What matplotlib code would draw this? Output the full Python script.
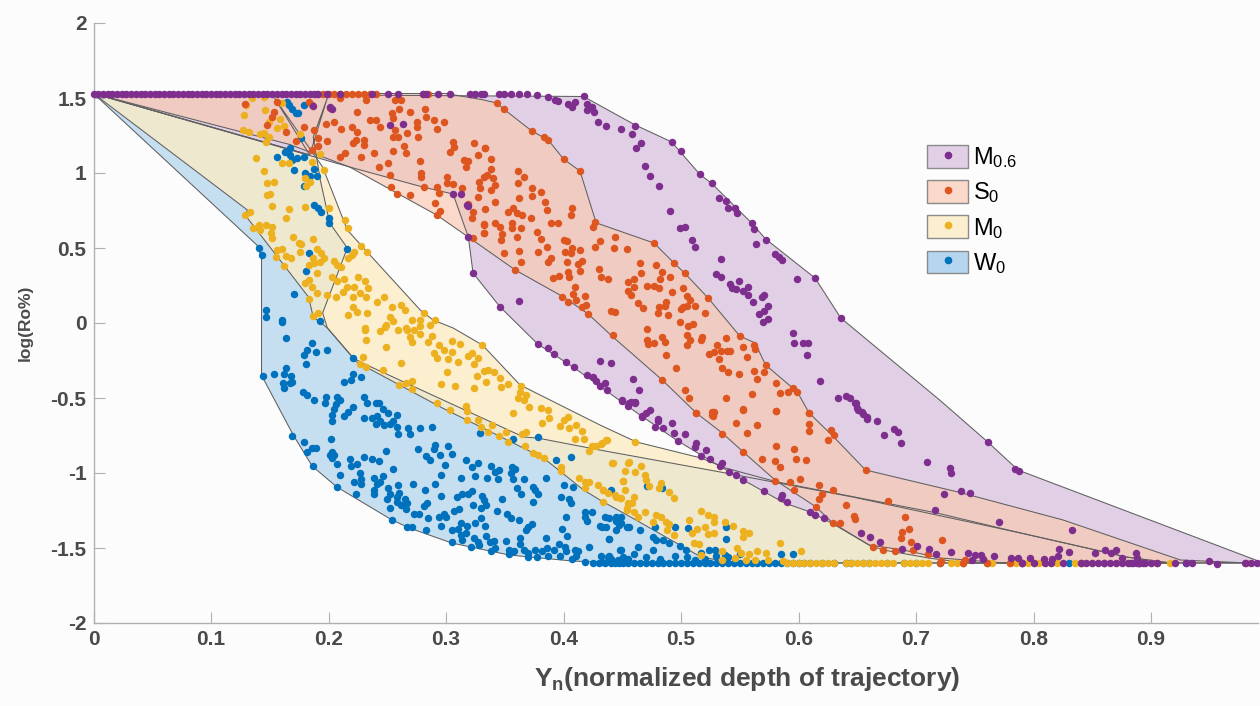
import matplotlib
matplotlib.use("Agg")
import matplotlib.pyplot as plt
from matplotlib.patches import Patch
from matplotlib.lines import Line2D
from matplotlib.legend_handler import HandlerTuple

plt.rcParams['font.family'] = ['Liberation Sans', 'DejaVu Sans']
plt.rcParams['mathtext.fontset'] = 'custom'
plt.rcParams['mathtext.rm'] = 'Liberation Sans'
plt.rcParams['mathtext.bf'] = 'Liberation Sans:bold'
plt.rcParams['mathtext.default'] = 'regular'

TOP = 1.53
BOT = -1.60

series_names = ['M$_{0.6}$', 'S$_0$', 'M$_0$', 'W$_0$']
x_ticks = [0, 0.1, 0.2, 0.3, 0.4, 0.5, 0.6, 0.7, 0.8, 0.9]
x_tick_labels = ['0', '0.1', '0.2', '0.3', '0.4', '0.5', '0.6', '0.7', '0.8', '0.9']
y_ticks = [-2, -1.5, -1, -0.5, 0, 0.5, 1, 1.5, 2]
y_tick_labels = ['-2', '-1.5', '-1', '-0.5', '0', '0.5', '1', '1.5', '2']

# ---- envelope boundaries ----
M06_upper = [(0,1.53),(.417,1.51),(.461,1.32),(.492,1.207),(.516,.991),(.526,.931),(.560,.667),(.572,.56),(.614,.30),(.636,.033),(.72,-.513),(.761,-.793),(.784,-.96),(.789,-.987),(.989,-1.58),(.991,-1.60)]
M06_lower = [(0,1.53),(.218,1.04),(.28,.907),(.306,.86),(.319,.573),(.323,.333),(.346,.107),(.378,-.14),(.408,-.293),(.465,-.613),(.496,-.78),(.517,-.88),(.553,-1.047),(.588,-1.2),(.610,-1.26),(.628,-1.333),(.660,-1.48),(.689,-1.513),(.721,-1.567),(.775,-1.6)]
S0_upper = [(0,1.53),(.30,1.53),(.33,1.49),(.343,1.467),(.349,1.427),(.373,1.28),(.387,1.22),(.400,1.093),(.414,1.013),(.427,.687),(.428,.667),(.477,.533),(.494,.4),(.503,.333),(.523,.167),(.550,-.087),(.563,-.133),(.572,-.28),(.599,-.46),(.609,-.6),(.630,-.76),(.657,-.98),(.739,-1.133),(.825,-1.313),(.925,-1.58),(.983,-1.6)]
S0_lower = [(0,1.53),(.167,1.19),(.218,1.04),(.292,.72),(.319,.573),(.359,.353),(.4,.173),(.421,.06),(.442,-.093),(.484,-.38),(.513,-.6),(.535,-.733),(.553,-.86),(.58,-1.047),(.615,-1.227),(.629,-1.333),(.660,-1.48),(.672,-1.513),(.711,-1.567),(.743,-1.6)]
M0_upper = [(0,1.53),(.184,1.12),(.154,1.5),(.195,1.04),(.216,.62),(.233,.473),(.278,.087),(.289,.02),(.306,-.033),(.331,-.147),(.363,-.413),(.431,-.68),(.462,-.793),(.517,-.9),(.538,-.967),(.582,-1.06),(.718,-1.267),(.789,-1.4),(.879,-1.56),(.914,-1.6)]
M0_lower = [(0,1.53),(.131,.753),(.129,.72),(.154,.467),(.183,.173),(.187,.04),(.199,-.033),(.224,-.26),(.297,-.567),(.383,-.9),(.417,-1.113),(.431,-1.18),(.457,-1.293),(.517,-1.56),(.546,-1.6)]
W0_upper = [(0,1.53),(.184,1.12),(.199,1.5),(.187,1.24),(.193,.953),(.201,.667),(.216,.5),(.195,.067),(.199,-.033),(.221,-.233),(.229,-.267),(.366,-.76),(.378,-.767),(.431,-.847),(.538,-1.0),(.646,-1.16),(.789,-1.4),(.879,-1.56),(.918,-1.6)]
W0_lower = [(0,1.53),(.139,.52),(.143,.44),(.143,-.353),(.146,-.393),(.17,-.747),(.186,-.953),(.207,-1.093),(.254,-1.313),(.269,-1.367),(.305,-1.467),(.354,-1.547),(.408,-1.587),(.448,-1.6)]

# ---- W0 samples ----
W0_points = [(.160,.01),(.164,-.10),(.186,-.13),(.182,-.18),(.189,-.19),(.179,-.21),(.199,-.18),(.181,-.27),(.164,-.30),(.144,-.35),(.154,-.34),(.162,-.34),(.168,-.35),(.169,-.39),(.161,-.40),(.162,-.43),(.167,-.40),(.178,-.46),(.182,-.48),(.188,-.51),(.198,-.49),(.197,-.53),(.207,-.49),(.210,-.51),(.206,-.54),(.205,-.575),(.213,-.395),(.219,-.38),(.221,-.34),(.228,-.36),(.221,-.235),(.230,-.49),(.233,-.535),(.240,-.53),(.243,-.53),(.246,-.57),(.251,-.60),(.258,-.61),(.221,-.56),(.217,-.59),(.213,-.62),(.203,-.615),(.203,-.65),(.230,-.635),(.237,-.635),(.241,-.62),(.244,-.65),(.240,-.67),(.247,-.68),(.252,-.675),(.255,-.65),(.258,-.69),(.259,-.74),(.268,-.70),(.269,-.74),(.278,-.70),(.288,-.69),(.169,-.75),(.179,-.79),(.186,-.83),(.189,-.835),(.182,-.86),(.202,-.775),(.203,-.86),(.201,-.88),(.205,-.88),(.203,-.90),(.207,-.94),(.218,-.905),(.219,-.955),(.224,-.94),(.230,-.89),(.237,-.905),(.243,-.92),(.249,-.85),(.255,-.97),(.187,-.955),(.210,-1.01),(.227,-1.0),(.228,-1.04),(.239,-1.03),(.246,-1.02),(.222,-1.06),(.228,-1.07),(.241,-1.07),(.244,-1.06),(.207,-1.095),(.223,-1.14),(.239,-1.11),(.239,-1.14),(.251,-1.10),(.259,-1.08),(.272,-1.07),(.252,-1.14),(.260,-1.13),(.250,-1.17),(.258,-1.16),(.258,-1.19),(.265,-1.17),(.267,-1.20),(.262,-1.21),(.252,-1.23),(.266,-1.24),(.254,-1.31),(.273,-1.27),(.277,-1.27),(.285,-1.30),(.267,-1.36),(.271,-1.36),(.283,-1.38),(.281,-1.22),(.284,-1.20),(.282,-1.11),(.291,-1.07),(.296,-1.015),(.296,-1.15),(.276,-.84),(.290,-.84),(.291,-.81),(.283,-.885),(.286,-.91),(.295,-.88),(.302,-.82),(.305,-.87),(.299,-.945),(.317,-.915),(.322,-.96),(.327,-.93),(.313,-1.03),(.325,-1.02),(.335,-1.03),(.338,-.955),(.342,-.995),(.345,-.98),(.344,-1.04),(.356,-.96),(.359,-.97),(.355,-1.0),(.357,-1.04),(.366,-1.04),(.360,-1.10),(.364,-1.14),(.374,-1.09),(.376,-1.11),(.378,-1.14),(.374,-1.19),(.385,-1.03),(.400,-1.08),(.408,-1.09),(.398,-1.16),(.405,-1.17),(.406,-1.20),(.394,-.91),(.406,-.895),(.378,-.76),(.357,-.77),(.329,-.73),(.309,-1.16),(.314,-1.14),(.319,-1.14),(.322,-1.12),(.331,-1.15),(.332,-1.18),(.334,-1.21),(.323,-1.21),(.330,-1.23),(.348,-1.17),(.343,-1.25),(.352,-1.27),(.355,-1.30),(.362,-1.31),(.307,-1.25),(.311,-1.24),(.294,-1.29),(.298,-1.27),(.300,-1.29),(.313,-1.33),(.318,-1.35),(.325,-1.33),(.330,-1.30),(.333,-1.35),(.296,-1.35),(.305,-1.38),(.310,-1.37),(.317,-1.40),(.313,-1.41),(.314,-1.445),(.305,-1.46),(.324,-1.43),(.327,-1.46),(.321,-1.49),(.328,-1.48),(.334,-1.42),(.337,-1.46),(.341,-1.45),(.342,-1.50),(.338,-1.52),(.351,-1.45),(.363,-1.43),(.363,-1.47),(.366,-1.51),(.370,-1.36),(.373,-1.34),(.368,-1.38),(.385,-1.43),(.399,-1.37),(.403,-1.42),(.402,-1.29),(.418,-1.26),(.424,-1.26),(.420,-1.32),(.418,-1.29),(.431,-1.35),(.436,-1.36),(.435,-1.29),(.439,-1.30),(.445,-1.32),(.449,-1.29),(.454,-1.36),(.445,-1.38),(.439,-1.44),(.448,-1.51),(.354,-1.51),(.358,-1.52),(.354,-1.54),(.370,-1.53),(.376,-1.51),(.370,-1.56),(.377,-1.56),(.382,-1.52),(.386,-1.50),(.387,-1.55),(.392,-1.51),(.397,-1.55),(.396,-1.47),(.401,-1.49),(.402,-1.52),(.410,-1.51),(.412,-1.52),(.411,-1.55),(.407,-1.57),(.418,-1.59),(.425,-1.60),(.422,-1.49),(.432,-1.55),(.433,-1.59),(.439,-1.55),(.441,-1.59),(.446,-1.58),(.451,-1.56),
 (.167,1.165),(.163,1.143),(.156,1.105),(.167,1.12),(.169,1.09),(.173,1.098),(.179,1.105),(.171,1.02),(.180,1.0),(.188,1.025),(.184,.98),(.190,.98),(.179,.916),(.188,.787),(.191,.77),(.194,.743),(.200,.698),(.200,.669),(.216,.494),(.183,.47),(.181,.349),(.171,.194),(.141,.50),(.143,.454),(.147,.087),(.147,.042),(.160,.02),(.193,.016),(.179,1.454),(.166,1.454),(.169,1.43),(.174,1.398),(.177,1.231),(.172,1.398),(.165,1.476),
 (.445,-1.295),(.449,-1.33),(.433,-1.357),(.439,-1.44),(.447,-1.346),(.456,-1.357),(.465,-1.38),(.478,-1.357),(.495,-1.357),(.506,-1.364),(.538,-1.357),(.538,-1.44),(.440,-1.113),(.471,-1.086),(.484,-1.10),(.476,-1.424),(.479,-1.446),(.485,-1.446),(.490,-1.469),(.499,-1.486),(.504,-1.513),(.517,-1.535),(.524,-1.513),(.529,-1.513),(.537,-1.546),(.463,-1.49),(.476,-1.513),(.449,-1.513),(.438,-1.557),(.449,-1.58),(.585,-1.542),(.595,-1.542),(.512,-1.58),
 (.44,-1.57),(.455,-1.57),(.46,-1.54),(.47,-1.56),(.482,-1.57),(.495,-1.55),(.505,-1.56),(.52,-1.57),(.53,-1.55),(.54,-1.56),(.55,-1.54)]
W0_floor_x = [.43,.435,.44,.444,.447,.451,.455,.46,.465,.47,.475,.48,.485,.49,.495,.50,.505,.51,.515,.52,.525,.53,.535,.54,.545,.55,.555,.56,.565,.57,.575,.58,.585,.59,.595,.6,.605,.61,.62,.63,.64,.645,.655,.66,.675,.69,.7,.72,.74,.76,.79,.83,.86,.89,.93]

# ---- M0 samples ----
M0_points = [(.231,-.047),(.232,-.113),(.244,-.05),(.249,-.013),(.255,.013),(.259,-.047),(.267,-.047),(.273,-.047),(.278,-.073),(.269,-.091),(.271,-.124),(.286,-.013),(.278,-.02),(.288,-.087),(.285,-.129),(.249,-.162),(.294,-.147),(.305,-.12),(.312,-.142),(.305,-.191),(.298,-.18),(.290,-.202),(.292,-.231),(.302,-.242),(.310,-.258),(.322,-.202),(.319,-.218),(.327,-.236),(.324,-.276),(.331,-.149),(.229,-.224),(.262,-.267),(.227,-.273),(.232,-.293),(.246,-.311),(.301,-.327),(.332,-.318),(.336,-.313),(.341,-.329),(.326,-.351),(.346,-.364),(.334,-.391),(.296,-.409),(.308,-.422),(.324,-.431),(.347,-.424),(.353,-.407),(.364,-.42),(.266,-.398),(.271,-.384),(.260,-.411),(.271,-.438),(.363,-.458),(.361,-.502),(.368,-.48),(.366,-.513),(.371,-.558),(.357,-.602),(.381,-.569),(.387,-.58),(.388,-.636),(.382,-.667),(.400,-.647),(.404,-.629),(.397,-.684),(.411,-.678),(.405,-.702),(.416,-.72),(.410,-.776),(.417,-.773),(.424,-.82),(.428,-.82),(.432,-.807),(.437,-.78),(.422,-.853),(.292,-.536),(.317,-.553),(.318,-.584),(.303,-.58),(.327,-.647),(.318,-.647),(.339,-.68),(.330,-.696),(.336,-.724),(.351,-.729),(.345,-.751),(.368,-.724),(.365,-.74),(.353,-.791),(.367,-.82),(.374,-.869),(.378,-.88),(.383,-.898),(.398,-.958),(.398,-.984),(.413,-1.03),(.418,-1.058),(.422,-1.058),(.418,-1.102),(.429,-1.078),(.434,-1.113),(.438,-1.136),(.444,-1.147),(.448,-1.169),(.434,-1.191),(.441,-.936),(.451,-1.051),(.455,-.936),(.455,-1.2),(.454,-1.247),
 (.135,1.498),(.145,1.509),(.130,1.454),(.146,1.42),(.128,1.387),(.160,1.465),(.149,1.338),(.159,1.358),(.156,1.298),(.162,1.314),(.127,1.287),(.132,1.274),(.142,1.258),(.145,1.269),(.149,1.242),(.147,1.205),(.176,1.258),(.193,1.127),(.186,1.074),(.160,1.069),(.166,1.065),(.138,1.098),(.145,1.014),(.196,1.02),(.180,.965),(.184,.943),(.181,.916),(.148,.936),(.154,.943),(.150,.86),(.148,.854),(.152,.78),(.166,.762),(.180,.776),(.200,.769),(.164,.698),(.214,.687),(.217,.636),(.133,.742),(.129,.72),(.141,.654),(.136,.631),(.142,.62),(.147,.654),(.152,.638),(.151,.598),(.152,.565),(.170,.576),(.187,.558),(.175,.531),(.177,.527),(.176,.476),(.156,.487),(.160,.494),(.155,.443),(.164,.449),(.168,.436),(.162,.38),(.190,.494),(.194,.469),(.196,.436),(.187,.431),(.183,.387),(.188,.398),(.193,.409),(.205,.416),(.207,.387),(.211,.376),(.228,.516),(.233,.474),(.222,.476),(.217,.436),(.220,.454),(.190,.331),(.183,.287),(.180,.265),(.186,.243),(.190,.198),(.183,.158),(.203,.309),(.207,.282),(.213,.291),(.216,.243),(.212,.205),(.199,.187),(.206,.176),(.225,.309),(.231,.282),(.222,.243),(.234,.231),(.221,.176),(.227,.202),(.232,.176),(.241,.142),(.247,.176),(.221,.109),(.224,.076),(.217,.054),(.233,.065),(.187,.047),(.191,.065),(.254,.109),(.262,.12),(.252,.043),(.265,.087),(.271,.02),(.278,.02),(.281,.065),(.291,.02),(.248,-.024),(.231,-.035),(.266,-.035),
 (.436,-.78),(.433,-.802),(.461,-.791),(.442,-.931),(.456,-.929),(.466,-.953),(.452,-.984),(.461,-.991),(.469,-1.013),(.451,-1.053),(.470,-1.046),(.473,-1.086),(.483,-1.069),(.481,-1.102),(.490,-1.124),(.494,-1.164),(.452,-1.113),(.434,-1.113),(.445,-1.158),(.449,-1.169),(.460,-1.158),(.458,-1.202),(.454,-1.235),(.460,-1.257),(.469,-1.262),(.463,-1.291),(.479,-1.28),(.483,-1.291),(.476,-1.324),(.487,-1.324),(.490,-1.34),(.517,-1.25),(.523,-1.28),(.528,-1.291),(.528,-1.324),(.507,-1.313),(.537,-1.324),(.544,-1.351),(.520,-1.362),(.514,-1.375),(.509,-1.397),(.528,-1.397),(.523,-1.409),(.553,-1.386),(.558,-1.397),(.553,-1.424),(.488,-1.38),(.494,-1.413),(.511,-1.469),(.515,-1.473),(.584,-1.469),(.602,-1.518),(.535,-1.518),(.548,-1.502),(.565,-1.52),(.572,-1.531),(.551,-1.535),(.558,-1.54),(.546,-1.569),(.555,-1.58),(.563,-1.58),(.574,-1.58),(.587,-1.584),(.517,-1.546),(.535,-1.58)]
M0_floor_x = [.59,.595,.6,.605,.61,.615,.62,.625,.63,.64,.645,.65,.655,.66,.665,.67,.675,.68,.69,.695,.7,.705,.71,.73,.735,.74,.76,.765,.78,.785,.79,.795,.8,.805,.81,.815,.82,.835,.84,.85,.86,.87,.88,.89,.9,.916]

# ---- S0 samples ----
S0_points = [(.343,1.464),(.349,1.427),(.373,1.282),(.383,1.242),(.387,1.22),(.400,1.093),(.414,1.016),(.427,.676),(.425,.642),(.333,1.169),(.338,1.096),(.338,1.029),(.332,.976),(.340,.969),(.342,.92),(.338,.887),(.361,1.016),(.366,.973),(.361,.931),(.373,.902),(.373,.849),(.381,.871),(.362,.831),(.342,.809),(.384,.804),(.333,.758),(.353,.738),(.357,.764),(.360,.736),(.365,.72),(.386,.753),(.407,.764),(.406,.718),(.372,.702),(.342,.664),(.346,.642),(.356,.664),(.356,.631),(.364,.631),(.389,.669),(.395,.664),(.332,.66),(.332,.598),(.360,.576),(.348,.591),(.347,.553),(.377,.604),(.381,.56),(.386,.504),(.378,.471),(.349,.464),(.362,.482),(.364,.409),(.359,.353),(.400,.553),(.403,.549),(.407,.498),(.414,.487),(.401,.476),(.406,.464),(.416,.416),(.412,.393),(.403,.409),(.389,.431),(.387,.409),(.414,.347),(.404,.342),(.405,.304),(.396,.316),(.391,.3),(.410,.242),(.408,.191),(.418,.18),(.399,.171),(.404,.142),(.411,.153),(.419,.12),(.416,.104),(.421,.058),(.431,.547),(.427,.504),(.444,.576),(.443,.502),(.454,.493),(.465,.402),(.479,.387),(.466,.336),(.430,.36),(.432,.309),(.438,.291),(.477,.536),(.484,.342),(.491,.309),(.482,.293),(.494,.402),(.503,.336),(.460,.293),(.455,.273),(.471,.247),(.460,.242),(.455,.216),(.457,.187),(.477,.247),(.481,.231),(.492,.204),(.502,.231),(.505,.182),(.508,.153),(.463,.136),(.468,.098),(.481,.104),(.487,.142),(.486,.116),(.480,.069),(.502,.109),(.505,.113),(.500,.091),(.512,.116),(.523,.167),(.520,.069),(.489,.053),(.440,.082),(.444,.076),(.499,.009),(.506,-.018),(.510,-.009),(.471,-.042),(.442,-.08),(.471,-.113),(.484,-.091),(.486,-.124),(.472,-.142),(.477,-.131),(.505,-.08),(.508,-.113),(.518,-.091),(.517,-.113),(.505,-.147),(.487,-.213),(.550,-.084),(.538,-.098),(.531,-.147),(.553,-.162),(.562,-.147),(.563,-.173),(.524,-.207),(.528,-.196),(.534,-.187),(.539,-.187),(.542,-.187),(.556,-.224),(.532,-.24),(.572,-.28),(.496,-.298),(.535,-.298),(.540,-.329),(.549,-.342),(.562,-.32),(.571,-.329),(.565,-.376),(.484,-.38),(.581,-.398),(.591,-.458),(.584,-.464),(.595,-.436),(.599,-.458),(.503,-.447),(.507,-.502),(.538,-.498),(.560,-.476),(.553,-.576),(.581,-.584),(.609,-.598),(.528,-.591),(.526,-.613),(.513,-.598),
 (.513,-.597),(.526,-.591),(.527,-.62),(.553,-.58),(.581,-.584),(.609,-.602),(.547,-.669),(.565,-.68),(.609,-.673),(.609,-.72),(.556,-.731),(.535,-.74),(.628,-.713),(.630,-.747),(.625,-.78),(.581,-.818),(.596,-.84),(.553,-.862),(.569,-.909),(.580,-.92),(.584,-.958),(.598,-.904),(.606,-.913),(.657,-.98),(.580,-1.051),(.593,-1.058),(.601,-1.038),(.617,-1.078),(.629,-1.113),(.596,-1.111),(.620,-1.142),(.617,-1.175),(.615,-1.224),(.640,-1.215),(.676,-1.184),(.647,-1.286),(.648,-1.309),(.691,-1.293),(.629,-1.331),(.635,-1.331),(.694,-1.373),(.688,-1.391),(.687,-1.431),(.722,-1.449),(.696,-1.458),(.663,-1.495),(.672,-1.511),(.682,-1.518),(.697,-1.511),(.710,-1.542),(.742,-1.58),(.721,-1.587),
 (.129,1.458),(.156,1.476),(.183,1.476),(.186,1.454),(.201,1.431),(.210,1.498),(.224,1.409),(.232,1.487),(.235,1.354),(.240,1.354),(.244,1.309),(.211,1.291),(.220,1.309),(.224,1.271),(.205,1.343),(.198,1.325),(.179,1.309),(.164,1.276),(.154,1.409),(.152,1.376),(.148,1.32),(.223,1.22),(.221,1.198),(.230,1.22),(.230,1.187),(.188,1.287),(.199,1.214),(.191,1.231),(.191,1.18),(.186,1.154),(.172,1.214),(.214,1.136),(.210,1.105),(.228,1.105),(.239,1.136),(.243,1.042),(.251,1.065),(.255,1.147),(.264,1.18),(.266,1.131),(.255,1.242),(.254,1.398),(.255,1.365),(.257,1.287),(.259,1.242),(.269,1.409),(.260,1.425),(.267,1.265),(.276,1.242),(.275,1.343),(.275,1.309),(.257,1.487),(.262,1.487),(.282,1.425),(.283,1.371),(.290,1.354),(.298,1.338),(.292,1.294),(.306,1.205),(.307,1.171),(.303,1.138),(.324,1.198),(.333,1.165),(.327,1.12),(.315,1.087),(.319,1.083),(.317,1.038),(.278,1.08),(.279,.998),(.279,.976),(.252,.987),(.301,.976),(.301,.931),(.306,.927),(.314,.9),(.292,.909),(.281,.909),(.253,.909),(.258,.86),(.269,.854),(.294,.865),(.291,.803),(.295,.749),(.292,.72),(.327,.842),(.329,.898),(.328,.942),(.335,.987),(.319,.791),(.323,.743),(.322,.702),(.332,.654),(.332,.598),(.323,.565)]
S0_ceiling_x = [.19,.195,.2,.205,.21,.215,.22,.225,.23,.235,.24,.28,.285]
S0_floor_x = [.72,.74,.76,.78,.79,.84,.89,.905,.981]

# ---- M0.6 samples ----
M06_points = [(.377,1.522),(.387,1.504),(.393,1.487),(.395,1.482),(.404,1.46),(.410,1.471),(.407,1.438),(.417,1.516),(.420,1.46),(.424,1.442),(.420,1.42),(.426,1.409),(.429,1.342),(.436,1.313),(.449,1.293),(.461,1.316),(.458,1.26),(.466,1.198),(.462,1.167),(.492,1.207),(.500,1.147),(.469,1.049),(.474,.982),(.481,.913),(.516,.991),(.526,.931),(.491,.749),(.532,.833),(.538,.816),(.540,.767),(.546,.767),(.548,.736),(.560,.664),(.562,.627),(.572,.556),(.564,.524),(.499,.633),(.503,.64),(.509,.553),(.512,.504),(.580,.462),(.583,.442),(.586,.42),(.534,.427),(.530,.324),(.534,.309),(.599,.296),(.614,.298),(.542,.26),(.543,.231),(.547,.227),(.549,.282),(.553,.216),(.557,.238),(.557,.187),(.561,.142),(.569,.176),(.571,.187),(.574,.116),(.571,.082),(.566,.06),(.570,.009),(.574,.024),(.636,.033),(.595,-.069),(.596,-.131),(.604,-.131),(.608,-.131),(.607,-.211),(.618,-.384),(.634,-.498),(.640,-.484),(.644,-.502),(.649,-.531),(.650,-.569),(.654,-.591),(.658,-.624),
 (.346,.104),(.362,.144),(.378,-.142),(.387,-.169),(.392,-.209),(.402,-.262),(.409,-.293),(.431,-.253),(.440,-.269),(.420,-.347),(.425,-.358),(.428,-.387),(.435,-.402),(.431,-.42),(.437,-.447),(.459,-.373),(.464,-.447),(.450,-.513),(.457,-.524),(.461,-.524),(.455,-.553),(.474,-.58),(.470,-.602),(.467,-.62),(.480,-.642),
 (.450,-.52),(.456,-.535),(.461,-.531),(.467,-.624),(.480,-.651),(.478,-.691),(.492,-.669),(.485,-.702),(.494,-.735),(.503,-.742),(.497,-.784),(.513,-.802),(.512,-.829),(.521,-.846),(.517,-.884),(.525,-.907),(.535,-.931),(.533,-.951),(.541,-.991),(.547,-1.013),(.553,-1.046),(.571,-1.118),(.586,-1.147),(.585,-1.169),(.590,-1.195),(.610,-1.258),(.614,-1.28),(.622,-1.302),(.653,-1.402),(.661,-1.429),(.669,-1.462),(.688,-1.504),(.701,-1.486),(.711,-1.506),(.717,-1.537),(.730,-1.524),(.744,-1.535),(.750,-1.546),(.755,-1.546),(.766,-1.553),(.748,-1.58),(.757,-1.575),(.781,-1.569),(.787,-1.569),(.797,-1.569),(.809,-1.575),(.816,-1.573),(.821,-1.553),(.830,-1.529),(.852,-1.533),(.861,-1.513),(.870,-1.513),(.866,-1.535),(.875,-1.569),(.887,-1.535),(.888,-1.569),(.822,-1.506),(.833,-1.38),(.771,-1.329),(.716,-1.244),(.724,-1.142),(.738,-1.122),(.746,-1.131),(.709,-.926),(.729,-.964),(.730,-.998),(.761,-.795),(.784,-.975),(.788,-.984),(.667,-.653),(.681,-.706),(.685,-.727),(.673,-.744),(.687,-.8),(.648,-.535),(.651,-.58),(.655,-.607),(.658,-.64),(.949,-1.586),(.956,-1.606),
 (.306,.86),(.319,.573),(.323,.333),(.313,.86),(.318,.79),(.187,1.45),(.201,1.44),(.203,1.43),(.252,1.32),(.263,1.33),(.319,.78)]
M06_ceiling_x = [0,.004,.008,.012,.016,.02,.024,.028,.032,.036,.04,.044,.048,.052,.056,.06,.064,.068,.072,.076,.08,.084,.088,.092,.096,.10,.104,.108,.112,.116,.12,.124,.128,.132,.136,.14,.144,.148,.152,.156,.16,.164,.168,.172,.176,.18,.184,.188,.191,.199,.21,.237,.251,.259,.28,.283,.293,.303,.32,.325,.33,.332,.345,.349,.355,.362,.369]
M06_floor_x = [.79,.80,.81,.815,.825,.84,.845,.85,.855,.86,.865,.87,.875,.88,.883,.885,.888,.89,.893,.895,.90,.905,.92,.93,.935,.98,.985,.99]

COL = {'M06': '#7E2F8E', 'S0': '#DD5620', 'M0': '#EDB120', 'W0': '#0072BD'}
FILL = {'M06': '#E1CFE6', 'S0': '#FAD8CA', 'M0': '#FBEFD0', 'W0': '#C6DFF0'}
OVER_M0_W0 = '#EDE8CE'
OVER_S0_M06 = '#F0CBC2'
BG = '#FCFCFC'

fig = plt.figure(figsize=(12.6, 7.06), dpi=100, facecolor=BG)
ax = fig.add_axes([93.5/1260, 1-623/706, 1164.5/1260, 600/706], facecolor=BG)


def ring(upper, lower):
    pts = upper + lower[::-1]
    return [p[0] for p in pts], [p[1] for p in pts]


def fill(upper, lower, color, z):
    xs, ys = ring(upper, lower)
    return ax.fill(xs, ys, facecolor=color, edgecolor='none', zorder=z)[0]


w_patch = fill(W0_upper, W0_lower, FILL['W0'], 1)
m_patch = fill(M0_upper, M0_lower, FILL['M0'], 1.1)
tan = fill(M0_upper, M0_lower, OVER_M0_W0, 1.2)
tan.set_clip_path(w_patch)
p_patch = fill(M06_upper, M06_lower, FILL['M06'], 1.3)
s_patch = fill(S0_upper, S0_lower, FILL['S0'], 1.4)
sp = fill(S0_upper, S0_lower, OVER_S0_M06, 1.5)
sp.set_clip_path(p_patch)

for up, lo in [(W0_upper, W0_lower), (M0_upper, M0_lower), (M06_upper, M06_lower), (S0_upper, S0_lower)]:
    xs, ys = ring(up, lo)
    ax.fill(xs, ys, facecolor='none', edgecolor='#5f5f5f', linewidth=0.75, zorder=2)

MS = 29


def dots(points, extra, key, z):
    xs = [p[0] for p in points] + [e[0] for e in extra]
    ys = [p[1] for p in points] + [e[1] for e in extra]
    ax.scatter(xs, ys, s=MS, color=COL[key], linewidths=0, zorder=z, clip_on=False)


dots(W0_points, [(x, BOT) for x in W0_floor_x], 'W0', 3)
dots(M0_points, [(x, BOT) for x in M0_floor_x], 'M0', 3.1)
dots(S0_points, [(x, TOP) for x in S0_ceiling_x] + [(x, BOT) for x in S0_floor_x], 'S0', 3.2)
dots(M06_points, [(x, TOP) for x in M06_ceiling_x] + [(x, BOT) for x in M06_floor_x], 'M06', 3.3)

ax.set_xlim(0, 0.991)
ax.set_ylim(-2, 2)
ax.set_xticks(x_ticks)
ax.set_xticklabels(x_tick_labels)
ax.set_yticks(y_ticks)
ax.set_yticklabels(y_tick_labels)
for s in ['top', 'right']:
    ax.spines[s].set_visible(False)
for s in ['left', 'bottom']:
    ax.spines[s].set_color('#b0b0b0')
    ax.spines[s].set_linewidth(1.0)
ax.tick_params(axis='both', direction='in', length=8, width=0.8, color='#b0b0b0',
               labelsize=15, labelcolor='#4a4a4a', pad=5)
for t in ax.get_xticklabels() + ax.get_yticklabels():
    t.set_fontweight('bold')

ax.set_xlabel(r'Y$_{\mathbf{n}}$(normalized depth of trajectory)', fontsize=19,
              fontweight='bold', color='#4a4a4a')
ax.xaxis.set_label_coords((747.5-93.5)/1164.5, -0.07)
ax.set_ylabel('log(Ro%)', fontsize=12.5, fontweight='bold', color='#4a4a4a')
ax.yaxis.set_label_coords((33-93.5)/1164.5, 0.5)

handles = []
for key in ['M06', 'S0', 'M0', 'W0']:
    swatch = Patch(facecolor=FILL[key] if key != 'W0' else '#B5D6EE', edgecolor='#8a8a8a', linewidth=1)
    dot = Line2D([], [], linestyle='none', marker='o', markersize=5.5,
                 markerfacecolor=COL[key], markeredgecolor='none')
    handles.append((swatch, dot))
ax.legend(handles, series_names, handler_map={tuple: HandlerTuple(ndivide=1, pad=0)},
          loc='upper left', bbox_to_anchor=(927/1260, 1-145/706), bbox_transform=fig.transFigure,
          frameon=False, fontsize=17, handlelength=1.74, handleheight=1.1, labelspacing=0.42,
          handletextpad=0.22, borderpad=0, borderaxespad=0)

fig.savefig('out.png', dpi=100, facecolor=BG)
